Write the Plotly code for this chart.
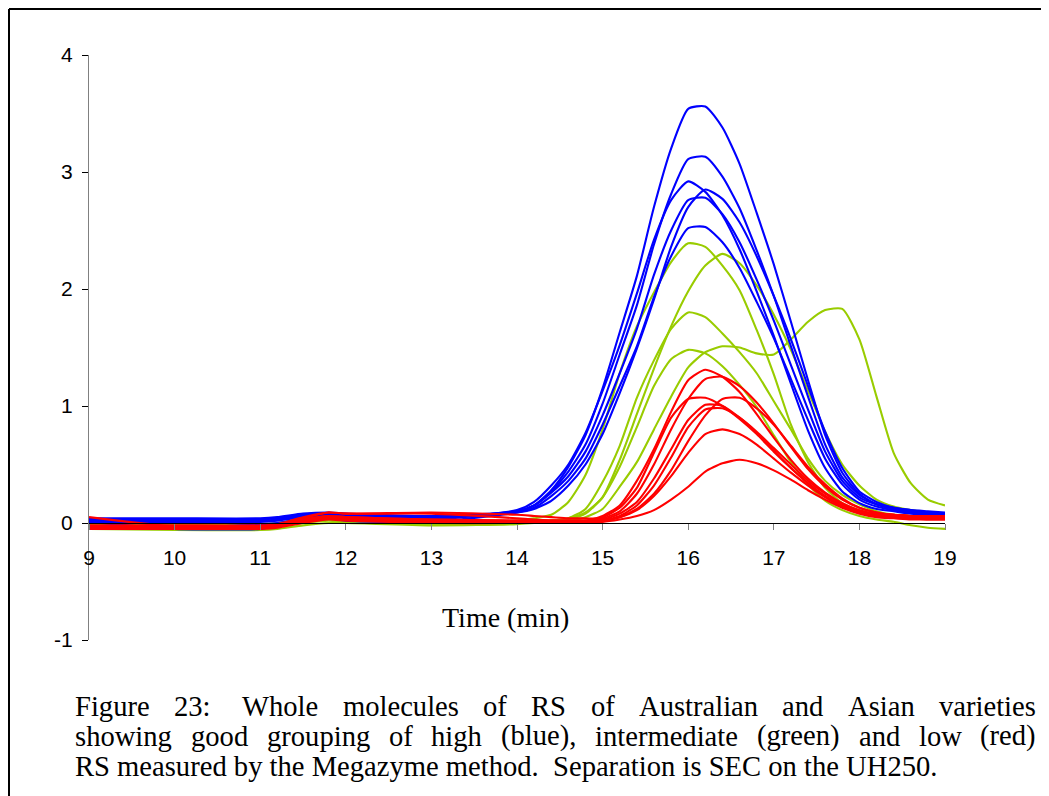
import plotly.graph_objects as go

# ---------------- data ----------------
time_min = [9.0, 10.0, 11.0, 11.2, 11.5, 11.8, 12.0, 13.0,
            14.0, 14.2, 14.4, 14.6, 14.8, 15.0, 15.2, 15.4, 15.6, 15.8, 16.0, 16.2, 16.4,
            16.6, 16.8, 17.0, 17.2, 17.4, 17.6, 17.8, 18.0, 18.2, 18.4, 18.6, 18.8, 19.0]

high_blue = [
    [0.03, 0.03, 0.03, 0.04, 0.07, 0.08, 0.07, 0.05,
     0.10, 0.15, 0.28, 0.48, 0.75, 1.15, 1.63, 2.11, 2.70, 3.20, 3.54, 3.56, 3.38,
     3.07, 2.65, 2.21, 1.72, 1.22, 0.75, 0.43, 0.25, 0.16, 0.13, 0.10, 0.09, 0.08],
    [0.04, 0.04, 0.04, 0.05, 0.08, 0.09, 0.08, 0.06,
     0.10, 0.15, 0.27, 0.44, 0.67, 1.02, 1.44, 1.86, 2.38, 2.81, 3.11, 3.13, 2.96,
     2.69, 2.33, 1.94, 1.51, 1.08, 0.67, 0.39, 0.24, 0.16, 0.12, 0.10, 0.09, 0.08],
    [0.02, 0.02, 0.02, 0.03, 0.06, 0.07, 0.06, 0.04,
     0.11, 0.18, 0.32, 0.50, 0.77, 1.13, 1.52, 1.96, 2.42, 2.76, 2.92, 2.83, 2.63,
     2.34, 1.98, 1.60, 1.19, 0.79, 0.47, 0.27, 0.17, 0.12, 0.10, 0.08, 0.07, 0.07],
    [0.01, 0.01, 0.01, 0.02, 0.05, 0.07, 0.06, 0.05,
     0.09, 0.12, 0.19, 0.32, 0.50, 0.76, 1.11, 1.49, 1.91, 2.36, 2.70, 2.85, 2.77,
     2.57, 2.28, 1.94, 1.57, 1.17, 0.78, 0.47, 0.27, 0.18, 0.13, 0.11, 0.09, 0.08],
    [0.02, 0.02, -0.01, 0.00, 0.04, 0.06, 0.05, 0.03,
     0.10, 0.15, 0.26, 0.40, 0.61, 0.92, 1.28, 1.66, 2.12, 2.50, 2.76, 2.78, 2.64,
     2.40, 2.08, 1.73, 1.35, 0.97, 0.61, 0.36, 0.22, 0.16, 0.13, 0.11, 0.10, 0.09],
    [0.01, -0.05, -0.05, -0.02, 0.02, 0.04, 0.02, 0.01,
     0.09, 0.13, 0.23, 0.36, 0.55, 0.84, 1.17, 1.51, 1.93, 2.28, 2.52, 2.53, 2.40,
     2.18, 1.89, 1.58, 1.23, 0.88, 0.55, 0.33, 0.20, 0.14, 0.11, 0.09, 0.08, 0.08],
]

intermediate_green = [
    [-0.02, -0.02, -0.02, -0.01, 0.02, 0.04, 0.03, 0.01,
     0.02, 0.04, 0.07, 0.18, 0.41, 0.80, 1.28, 1.68, 1.97, 2.23, 2.39, 2.36, 2.20,
     1.99, 1.65, 1.27, 0.84, 0.52, 0.30, 0.17, 0.11, 0.08, 0.07, 0.06, 0.06, 0.06],
    [-0.03, -0.03, -0.03, -0.02, 0.01, 0.03, 0.02, 0.00,
     0.00, 0.01, 0.02, 0.04, 0.09, 0.22, 0.54, 0.93, 1.32, 1.68, 1.98, 2.20, 2.30,
     2.22, 2.03, 1.78, 1.48, 1.13, 0.78, 0.50, 0.32, 0.20, 0.14, 0.11, 0.09, 0.08],
    [-0.04, -0.04, -0.04, -0.03, 0.00, 0.02, 0.01, -0.01,
     0.00, 0.01, 0.02, 0.04, 0.12, 0.35, 0.66, 1.07, 1.39, 1.66, 1.80, 1.76, 1.62,
     1.46, 1.28, 1.04, 0.80, 0.55, 0.36, 0.24, 0.16, 0.10, 0.07, 0.06, 0.05, 0.05],
    [-0.05, -0.06, -0.06, -0.05, -0.02, 0.00, 0.00, -0.02,
     -0.01, 0.00, 0.01, 0.03, 0.08, 0.22, 0.48, 0.82, 1.17, 1.40, 1.48, 1.45, 1.34,
     1.18, 0.99, 0.75, 0.52, 0.33, 0.19, 0.11, 0.06, 0.03, 0.01, -0.02, -0.04, -0.05],
    [-0.01, -0.01, -0.01, 0.00, 0.03, 0.05, 0.04, 0.02,
     0.01, 0.01, 0.01, 0.02, 0.05, 0.12, 0.31, 0.52, 0.80, 1.08, 1.33, 1.46, 1.51,
     1.50, 1.45, 1.44, 1.57, 1.72, 1.82, 1.83, 1.57, 1.08, 0.60, 0.34, 0.20, 0.15],
]

low_red = [
    [0.05, -0.03, -0.03, -0.01, 0.05, 0.09, 0.08, 0.08,
     0.04, 0.03, 0.02, 0.02, 0.02, 0.06, 0.15, 0.36, 0.63, 0.95, 1.22, 1.31, 1.25,
     1.12, 0.93, 0.73, 0.54, 0.38, 0.26, 0.17, 0.11, 0.08, 0.07, 0.06, 0.06, 0.06],
    [-0.04, -0.04, -0.04, -0.02, 0.04, 0.09, 0.08, 0.09,
     0.07, 0.06, 0.05, 0.04, 0.04, 0.04, 0.10, 0.25, 0.50, 0.80, 1.06, 1.23, 1.25,
     1.17, 1.03, 0.85, 0.65, 0.46, 0.31, 0.20, 0.13, 0.09, 0.07, 0.06, 0.05, 0.05],
    [-0.03, -0.03, -0.03, -0.02, 0.03, 0.06, 0.05, 0.03,
     0.02, 0.02, 0.02, 0.02, 0.02, 0.05, 0.13, 0.30, 0.60, 0.90, 1.06, 1.07, 1.00,
     0.89, 0.76, 0.61, 0.47, 0.34, 0.23, 0.15, 0.10, 0.07, 0.06, 0.05, 0.05, 0.05],
    [-0.05, -0.05, -0.05, -0.04, 0.00, 0.03, 0.02, 0.00,
     0.00, 0.00, 0.00, 0.00, 0.01, 0.02, 0.05, 0.12, 0.25, 0.45, 0.70, 0.92, 1.06,
     1.07, 0.98, 0.84, 0.66, 0.48, 0.33, 0.21, 0.13, 0.09, 0.07, 0.06, 0.05, 0.04],
    [-0.04, -0.04, -0.04, -0.03, 0.01, 0.04, 0.03, 0.01,
     0.01, 0.01, 0.01, 0.01, 0.01, 0.03, 0.08, 0.18, 0.38, 0.63, 0.88, 1.01, 1.00,
     0.90, 0.77, 0.62, 0.47, 0.34, 0.23, 0.15, 0.10, 0.07, 0.05, 0.04, 0.04, 0.04],
    [-0.03, -0.03, -0.03, -0.02, 0.02, 0.05, 0.04, 0.02,
     0.01, 0.01, 0.01, 0.01, 0.01, 0.02, 0.06, 0.15, 0.32, 0.56, 0.82, 0.97, 0.98,
     0.90, 0.78, 0.64, 0.50, 0.36, 0.25, 0.16, 0.10, 0.07, 0.05, 0.04, 0.03, 0.03],
    [-0.02, -0.02, -0.02, -0.01, 0.03, 0.06, 0.05, 0.03,
     0.02, 0.02, 0.02, 0.02, 0.02, 0.02, 0.05, 0.11, 0.23, 0.40, 0.60, 0.76, 0.80,
     0.76, 0.67, 0.55, 0.43, 0.32, 0.22, 0.14, 0.09, 0.06, 0.05, 0.04, 0.04, 0.04],
    [-0.04, -0.04, -0.04, -0.03, 0.01, 0.04, 0.03, 0.01,
     0.01, 0.01, 0.01, 0.01, 0.01, 0.01, 0.03, 0.06, 0.11, 0.20, 0.31, 0.44, 0.51,
     0.54, 0.51, 0.45, 0.37, 0.28, 0.20, 0.13, 0.08, 0.05, 0.04, 0.03, 0.03, 0.03],
]

x_ticks = [9, 10, 11, 12, 13, 14, 15, 16, 17, 18, 19]
y_ticks = [-1, 0, 1, 2, 3, 4]
y_tick_text = ["-1", "0", "1", "2", "3", "4"]
x_title = "Time (min)"
caption_line1 = "Figure 23:  Whole molecules of RS of Australian and Asian varieties"
caption_line2 = "showing good grouping of high (blue), intermediate (green) and low (red)"
caption_line3 = "RS measured by the Megazyme method.  Separation is SEC on the UH250."

# ---------------- figure ----------------
OFF = 8                      # page body margin
W, H = 1049, 796
L, T = 81, 47
PW, PH = 856, 585
R, B = W - L - PW, H - T - PH


def px2x(px):   # screen pixel -> paper x
    return (px - OFF - L) / PW


def py2y(py):   # screen pixel -> paper y
    return (H - B - (py - OFF)) / PH


fig = go.Figure()
groups = [(intermediate_green, "#99CC00"), (high_blue, "#0000FF"), (low_red, "#FF0000")]
for series_list, color in groups:
    for s in series_list:
        assert len(s) == len(time_min)
        fig.add_trace(go.Scatter(x=time_min, y=s, mode="lines",
                                 line=dict(color=color, width=2.1, shape="spline", smoothing=0.6),
                                 showlegend=False, hoverinfo="skip"))

fig.update_layout(
    width=W, height=H,
    margin=dict(l=L, r=R, t=T, b=B),
    paper_bgcolor="white", plot_bgcolor="white",
    showlegend=False,
    font=dict(family="Liberation Sans, Arial", color="black"),
)
fig.update_xaxes(range=[9, 19], tickvals=x_ticks, anchor="free", position=0.2,
                 showline=True, linecolor="black", linewidth=1.3,
                 ticks="outside", ticklen=6, tickcolor="#808080", tickwidth=1.3,
                 showgrid=False, zeroline=False,
                 tickfont=dict(size=21, family="Liberation Sans, Arial"),
                 ticklabelstandoff=10)
fig.update_yaxes(range=[-1, 4], tickvals=y_ticks, ticktext=y_tick_text,
                 showline=True, linecolor="#808080",
                 linewidth=1.3, ticks="outside", ticklen=6, tickcolor="black", tickwidth=1.3,
                 showgrid=False, zeroline=False,
                 tickfont=dict(size=21, family="Liberation Sans, Arial"),
                 ticklabelstandoff=5)

# outer frame (top and left edges of the page)
fig.add_shape(type="line", xref="paper", yref="paper",
              x0=px2x(9), y0=py2y(9), x1=px2x(W + 20), y1=py2y(9),
              line=dict(color="black", width=2))
fig.add_shape(type="line", xref="paper", yref="paper",
              x0=px2x(9), y0=py2y(9), x1=px2x(9), y1=py2y(H + 20),
              line=dict(color="black", width=2))

serif = "Liberation Serif, Times New Roman"
fig.add_annotation(text=x_title, xref="paper", yref="paper", x=px2x(505), y=py2y(617),
                   xanchor="center", yanchor="middle", showarrow=False,
                   font=dict(family=serif, size=28, color="black"))

# Times-Roman advance widths (1/1000 em) for justified caption layout
TW = {' ': 250, '(': 333, ')': 333, ',': 250, '.': 250, ':': 278,
      '0': 500, '1': 500, '2': 500, '3': 500, '4': 500, '5': 500,
      'A': 722, 'C': 667, 'E': 611, 'F': 556, 'G': 722, 'H': 722, 'M': 889,
      'R': 667, 'S': 556, 'U': 722, 'W': 944,
      'a': 444, 'b': 500, 'c': 444, 'd': 500, 'e': 444, 'f': 333, 'g': 500, 'h': 500,
      'i': 278, 'j': 278, 'k': 500, 'l': 278, 'm': 778, 'n': 500, 'o': 500, 'p': 500,
      'q': 500, 'r': 333, 's': 389, 't': 278, 'u': 500, 'v': 500, 'w': 722, 'x': 500,
      'y': 500, 'z': 444}
cap_size = 28.6
left_px, right_px = 75, 1036


def wpx(word):
    return sum(TW.get(c, 500) for c in word) * cap_size / 1000.0


def add_word(text, xpx, ypx, anchor="left"):
    fig.add_annotation(text=text, xref="paper", yref="paper", x=px2x(xpx), y=py2y(ypx),
                       xanchor=anchor, yanchor="middle", showarrow=False, borderpad=0,
                       borderwidth=0, font=dict(family=serif, size=cap_size, color="black"))


for line, ypx in [(caption_line1, 706), (caption_line2, 736)]:
    words = line.split()
    # a word followed by a double space keeps one extra space width
    widths = [wpx(w) + (wpx(" ") if w.endswith(":") else 0.0) for w in words]
    gap = (right_px - left_px - sum(widths)) / (len(words) - 1)
    xcur = left_px
    for w, wd in zip(words, widths):
        add_word(w, xcur, ypx)
        xcur += wd + gap

add_word(caption_line3.replace("  ", "\u00a0 "), left_px, 766)

fig.write_html("out.html")
